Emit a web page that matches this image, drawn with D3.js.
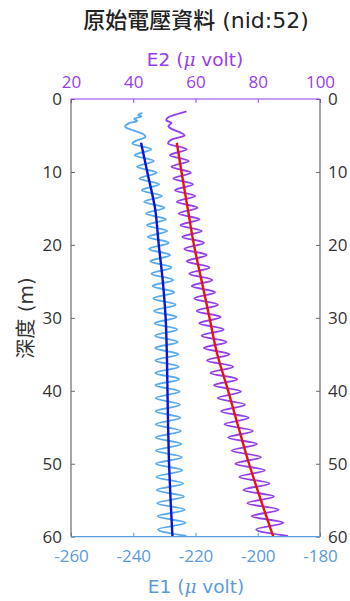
<!DOCTYPE html>
<html>
<head>
<meta charset="utf-8">
<script src="https://cdn.jsdelivr.net/npm/d3@7/dist/d3.min.js"></script>
<style>
  html, body { margin: 0; padding: 0; background: #ffffff; }
  svg { display: block; }
</style>
</head>
<body>
<svg id="chart" width="350" height="601"></svg>
<script>
// ---- axis ticks ----
const depthTicks = [0, 10, 20, 30, 40, 50, 60];
const e1Ticks = [-260, -240, -220, -200, -180];
const e2Ticks = [20, 40, 60, 80, 100];

// ---- smoothed trend (depth in m, voltage in µV) ----
const trendDepth = [6, 10, 15, 20, 25, 30, 35, 40, 45, 50, 55, 60];
const e1Trend = [-237.5, -235.5, -233, -231.8, -230.5, -229.6, -229.2, -229, -228.8, -228.5, -228, -227.4];
const e2Trend = [54, 55.5, 57.5, 59.5, 62, 64.5, 67, 70.5, 73.8, 77.2, 81, 85];

// ---- raw readings near the surface ----
const e1HeadDepth = [1.9, 2.2, 2.4, 2.7, 3.0, 3.3, 3.8, 4.3, 4.8, 5.2, 5.7];
const e1Head = [-237.1, -238.4, -237.4, -239.7, -238.7, -241.3, -242.6, -240.0, -236.8, -236.1, -239.0];
const e2HeadDepth = [1.7, 2.1, 2.5, 2.9, 3.3, 3.7, 4.1, 4.6, 5.0, 5.5];
const e2Head = [57.1, 53.9, 51.3, 50.6, 52.3, 51.3, 52.3, 55.2, 56.5, 52.6];

// ---- raw readings below 6 m (turning points of the oscillation) ----
const rawDepth = [6.1, 6.9, 7.7, 8.5, 9.3, 10.1, 10.9, 11.7, 12.5, 13.3, 14.1, 14.9, 15.7, 16.5, 17.3, 18.1, 18.9, 19.7,
  20.55, 21.4, 22.25, 23.1, 23.95, 24.8, 25.65, 26.5, 27.35, 28.2, 29.05, 29.9, 30.75, 31.6, 32.45, 33.3, 34.15, 35.0,
  35.85, 36.7, 37.55, 38.4, 39.25, 40.1, 41.0, 41.9, 42.8, 43.7, 44.6, 45.5, 46.4, 47.3, 48.2, 49.1, 50.0, 50.9,
  51.8, 52.7, 53.6, 54.5, 55.4, 56.3, 57.2, 58.1, 59.0, 59.9];
const e1Raw = [-240.25, -234.2, -239.5, -233.4, -238.75, -232.5, -238.0, -231.7, -237.25, -230.8, -236.5, -230.0,
  -235.9, -229.5, -235.6, -229.1, -235.3, -228.6, -234.9, -228.15, -234.5, -227.7, -234.15, -227.2, -233.8, -226.8,
  -233.55, -226.4, -233.3, -226.1, -233.1, -225.9, -233.0, -225.7, -232.95, -225.5, -232.9, -225.4, -232.9, -225.25,
  -232.9, -225.1, -232.85, -225.0, -232.85, -224.85, -232.85, -224.7, -232.8, -224.55, -232.75, -224.4, -232.7,
  -224.2, -232.55, -223.95, -232.45, -223.7, -232.3, -223.45, -232.15, -223.2, -232.0, -222.9];
const e2Raw = [51.2, 57.2, 51.8, 57.8, 52.3, 58.5, 52.9, 59.2, 53.45, 59.9, 54.0, 60.6, 54.6, 61.3, 55.2, 62.0, 55.8,
  62.7, 56.4, 63.6, 57.2, 64.5, 58.0, 65.4, 58.8, 66.3, 59.6, 67.2, 60.4, 68.1, 61.2, 69.05, 61.95, 69.95, 62.7, 70.9,
  63.7, 72.1, 64.8, 73.4, 65.95, 74.6, 67.1, 75.9, 68.2, 77.1, 69.3, 78.4, 70.5, 79.7, 71.6, 81.0, 72.8, 82.3, 74.1,
  83.75, 75.4, 85.2, 76.7, 86.7, 78.1, 88.2, 79.5, 89.7];

// ---- colours ----
const colE1Raw = "#58aaee";
const colE1Fit = "#0a14d6";
const colE2Raw = "#9340ea";
const colE2Fit = "#ee1010";
const colE1Text = "#5b9bd8";
const colE2Text = "#9a3cf0";
const colGray = "#6a6a6a";
const colLabel = "#333333";

const svg = d3.select("#chart");
const plotLeft = 71, plotRight = 320, plotTop = 99, plotBottom = 536.7;

const y = d3.scaleLinear().domain([0, 60]).range([plotTop, plotBottom]);
const x1 = d3.scaleLinear().domain([-260, -180]).range([plotLeft, plotRight]);
const x2 = d3.scaleLinear().domain([20, 100]).range([plotLeft, plotRight]);

const numFont = "'Open Sans', 'Noto Sans', sans-serif";
const wideFont = "'DejaVu Sans', 'Open Sans', sans-serif";
const cjkFont = "'Noto Sans CJK TC', 'Noto Sans CJK SC', sans-serif";

// plot area clip
svg.append("defs").append("clipPath").attr("id", "plotClip")
  .append("rect").attr("x", plotLeft).attr("y", plotTop)
  .attr("width", plotRight - plotLeft).attr("height", plotBottom - plotTop);

const plot = svg.append("g").attr("clip-path", "url(#plotClip)");

function series(depths, vals) { return depths.map((d, i) => [vals[i], d]); }

const e1Points = series(e1HeadDepth, e1Head).concat(series(rawDepth, e1Raw));
const e2Points = series(e2HeadDepth, e2Head).concat(series(rawDepth, e2Raw));

const lineE1 = d3.line().x(p => x1(p[0])).y(p => y(p[1])).curve(d3.curveMonotoneY);
const lineE2 = d3.line().x(p => x2(p[0])).y(p => y(p[1])).curve(d3.curveMonotoneY);

plot.append("path").attr("d", lineE1(e1Points)).attr("fill", "none")
  .attr("stroke", colE1Raw).attr("stroke-width", 1.9).attr("stroke-linejoin", "round");
plot.append("path").attr("d", lineE2(e2Points)).attr("fill", "none")
  .attr("stroke", colE2Raw).attr("stroke-width", 1.9).attr("stroke-linejoin", "round");

const fitE1 = d3.line().x((d, i) => x1(e1Trend[i])).y(d => y(d)).curve(d3.curveMonotoneY);
const fitE2 = d3.line().x((d, i) => x2(e2Trend[i])).y(d => y(d)).curve(d3.curveMonotoneY);

plot.append("path").attr("d", fitE1(trendDepth)).attr("fill", "none")
  .attr("stroke", colE1Fit).attr("stroke-width", 2.4);
plot.append("path").attr("d", fitE2(trendDepth)).attr("fill", "none")
  .attr("stroke", colE2Fit).attr("stroke-width", 2.4);

// ---- axes ----
function styleAxis(g, color) {
  g.select(".domain").remove();
  g.selectAll(".tick line").attr("stroke", color).attr("stroke-width", 1);
  g.selectAll(".tick text").attr("fill", color).style("font-family", numFont).style("font-size", "17px");
}

const gLeft = svg.append("g").attr("transform", `translate(${plotLeft},0)`)
  .call(d3.axisLeft(y).tickValues(depthTicks).tickSizeInner(-4).tickSizeOuter(0).tickPadding(9).tickFormat(d3.format("d")));
styleAxis(gLeft, colLabel);
gLeft.selectAll(".tick line").attr("stroke", colGray);

const gRight = svg.append("g").attr("transform", `translate(${plotRight},0)`)
  .call(d3.axisRight(y).tickValues(depthTicks).tickSizeInner(-4).tickSizeOuter(0).tickPadding(8).tickFormat(d3.format("d")));
styleAxis(gRight, colLabel);
gRight.selectAll(".tick line").attr("stroke", colGray);

const gTop = svg.append("g").attr("transform", `translate(0,${plotTop})`)
  .call(d3.axisTop(x2).tickValues(e2Ticks).tickSizeInner(-4).tickSizeOuter(0).tickPadding(11).tickFormat(d3.format("d")));
styleAxis(gTop, colE2Text);

const gBottom = svg.append("g").attr("transform", `translate(0,${plotBottom})`)
  .call(d3.axisBottom(x1).tickValues(e1Ticks).tickSizeInner(-4).tickSizeOuter(0).tickPadding(13).tickFormat(d => String(d)));
styleAxis(gBottom, colE1Text);

// box edges
svg.append("line").attr("x1", plotLeft).attr("x2", plotLeft).attr("y1", plotTop).attr("y2", plotBottom)
  .attr("stroke", colGray).attr("stroke-width", 1.2);
svg.append("line").attr("x1", plotRight).attr("x2", plotRight).attr("y1", plotTop).attr("y2", plotBottom)
  .attr("stroke", colGray).attr("stroke-width", 1.2);
svg.append("line").attr("x1", plotLeft).attr("x2", plotRight).attr("y1", plotTop).attr("y2", plotTop)
  .attr("stroke", colE2Text).attr("stroke-width", 1.2);
svg.append("line").attr("x1", plotLeft).attr("x2", plotRight).attr("y1", plotBottom).attr("y2", plotBottom)
  .attr("stroke", colE1Text).attr("stroke-width", 1.2);

// ---- titles and axis labels ----
const title = svg.append("text").attr("x", 196).attr("y", 28).attr("text-anchor", "middle")
  .style("font-size", "22px").style("font-weight", "500").attr("fill", "#222222");
title.append("tspan").style("font-family", cjkFont).text("原始電壓資料");
title.append("tspan").style("font-family", wideFont).style("font-size", "22px").text(" (nid:52)");

function unitLabel(xPos, yPos, name, color) {
  const t = svg.append("text").attr("x", xPos).attr("y", yPos).attr("text-anchor", "middle")
    .style("font-family", wideFont).style("font-size", "18.5px").attr("fill", color);
  t.append("tspan").text(name + " (");
  t.append("tspan").style("font-family", "'DejaVu Serif', 'Liberation Serif', serif").style("font-style", "italic").text("μ");
  t.append("tspan").text(" volt)");
}
unitLabel(195, 66, "E2", colE2Text);
unitLabel(196, 593, "E1", colE1Text);

const yLabel = svg.append("text").attr("transform", "translate(33,318) rotate(-90)").attr("text-anchor", "middle")
  .style("font-size", "20px").attr("fill", colLabel);
yLabel.append("tspan").style("font-family", cjkFont).text("深度");
yLabel.append("tspan").style("font-family", wideFont).text(" (m)");
</script>
</body>
</html>
